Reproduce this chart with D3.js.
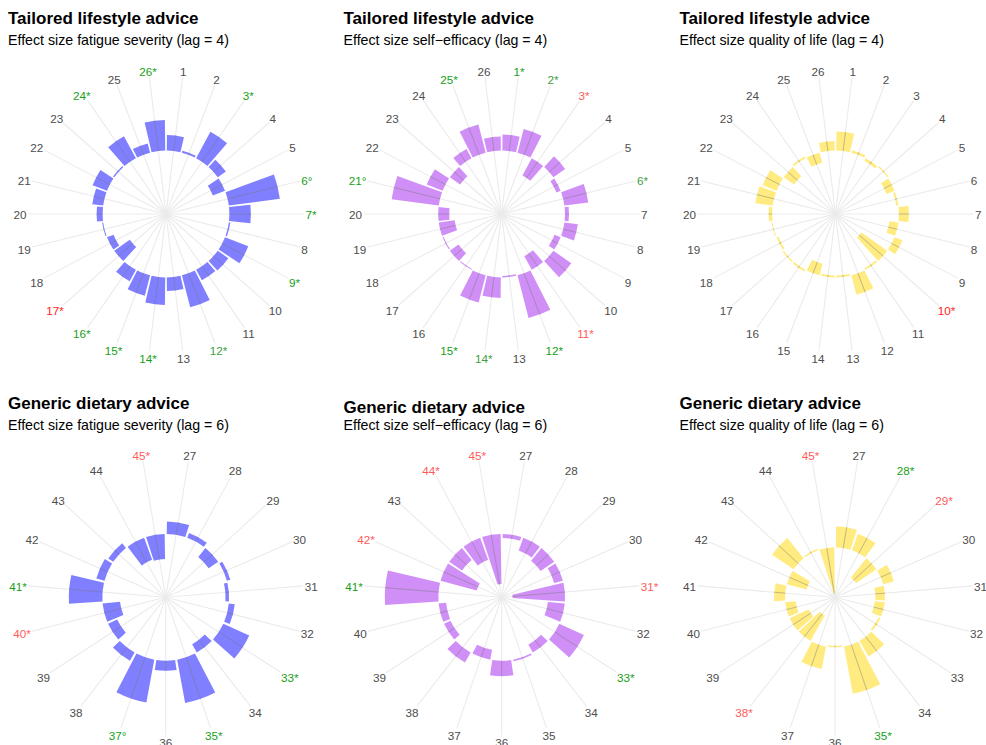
<!DOCTYPE html>
<html><head><meta charset="utf-8">
<script src="https://cdn.jsdelivr.net/npm/d3@7"></script>
<style>
body{margin:0;background:#fff}
text{font-family:"Liberation Sans",Arial,Helvetica,sans-serif}
</style>
</head><body>
<svg id="chart" width="986" height="745"></svg>
<script>
// ---- categories ----
const idsLag4 = ["1","2","3","4","5","6","7","8","9","10","11","12","13","14","15","16","17","18","19","20","21","22","23","24","25","26"];
const idsLag6 = ["27","28","29","30","31","32","33","34","35","36","37","38","39","40","41","42","43","44","45"];

// ---- effect sizes ----
const fatigueLag4   = [0.31,0.04,0.60,0.20,-0.26,1.03,0.43,0.03,0.50,0.26,0.24,0.66,0.27,0.55,0.42,0.26,-0.38,-0.14,0.02,0.12,0.22,0.31,0.03,0.50,0.19,0.61];
const efficacyLag4  = [0.32,0.49,-0.39,0.29,-0.09,0.48,0.08,0.27,-0.13,0.44,-0.31,0.88,-0.03,0.41,0.56,-0.02,-0.21,-0.02,-0.32,-0.22,0.95,0.34,-0.25,0.21,0.58,0.28];
const qolLag4       = [0.38,0.05,-0.06,0.03,-0.17,-0.04,0.20,-0.18,0.17,-0.63,-0.04,0.40,-0.04,-0.04,-0.24,0.04,0.03,-0.04,0.02,0.07,0.35,0.30,-0.25,0.04,-0.21,0.19];
const fatigueLag6   = [0.25,0.10,-0.23,0.07,-0.07,0.12,0.57,-0.19,0.88,0.20,0.87,0.19,-0.20,-0.35,0.67,0.17,0.12,-0.47,-0.50];
const efficacyLag6  = [-0.08,-0.27,-0.33,-0.18,-1.05,-0.34,0.54,-0.18,0.03,0.31,-0.20,0.23,-0.14,-0.15,1.07,-0.75,-0.31,-0.47,-1.00];
const qolLag6       = [0.42,0.35,-0.49,0.22,-0.19,-0.20,-0.04,0.36,0.96,-0.03,0.46,-0.58,-0.42,-0.21,0.22,-0.41,0.52,0.03,-0.92];

// ---- tick labels ----
const fatigueLag4Labels  = ["1","2","3*","4","5","6°","7*","8","9*","10","11","12*","13","14*","15*","16*","17*","18","19","20","21","22","23","24*","25","26*"];
const efficacyLag4Labels = ["1*","2*","3*","4","5","6*","7","8","9","10","11*","12*","13","14*","15*","16","17","18","19","20","21°","22","23","24","25*","26"];
const qolLag4Labels      = ["1","2","3","4","5","6","7","8","9","10*","11","12","13","14","15","16","17","18","19","20","21","22","23","24","25","26"];
const fatigueLag6Labels  = ["27","28","29","30","31","32","33*","34","35*","36","37°","38","39","40*","41*","42","43","44","45*"];
const efficacyLag6Labels = ["27","28","29","30","31*","32","33*","34","35","36","37","38","39","40","41*","42*","43","44*","45*"];
const qolLag6Labels      = ["27","28*","29*","30","31","32","33","34","35*","36","37","38*","39","40","41","42","43","44","45*"];

// significance code of each tick label: 1 strong +, 2 weaker +, -1 strong -, -2 weaker -, 0 none
const fatigueLag4Sig  = [0,0,1,0,0,1,1,0,1,0,0,2,0,1,1,1,-1,0,0,0,0,0,0,1,0,1];
const efficacyLag4Sig = [1,2,-2,0,0,2,0,0,0,0,-2,1,0,2,1,0,0,0,0,0,1,0,0,0,1,0];
const qolLag4Sig      = [0,0,0,0,0,0,0,0,0,-1,0,0,0,0,0,0,0,0,0,0,0,0,0,0,0,0];
const fatigueLag6Sig  = [0,0,0,0,0,0,1,0,1,0,1,0,0,-2,1,0,0,0,-2];
const efficacyLag6Sig = [0,0,0,0,-2,0,1,0,0,0,0,0,0,0,1,-2,0,-2,-2];
const qolLag6Sig      = [0,1,-2,0,0,0,0,0,1,0,0,-2,0,0,0,0,0,0,-2];

const titles = ["Tailored lifestyle advice","Generic dietary advice"];
const subtitles = [
  "Effect size fatigue severity (lag = 4)","Effect size self\u2212efficacy (lag = 4)","Effect size quality of life (lag = 4)",
  "Effect size fatigue severity (lag = 6)","Effect size self\u2212efficacy (lag = 6)","Effect size quality of life (lag = 6)"];

// ---- styling / layout ----
const sigColor = {"0":"#4d4d4d","1":"#16a016","2":"#40a040","-1":"#ff1a1a","-2":"#ff5a5a"};
const fills = {blue:"#0000ff", purple:"#a020f0", gold:"#ffd700"};
const R_OUT = 124.6, SPOKE = 138, LAB_R = 139.5, LAB_FS = 11.7;

const panels = [
  {title:titles[0], sub:subtitles[0], ids:idsLag4, vals:fatigueLag4,  labs:fatigueLag4Labels,  sig:fatigueLag4Sig,  fill:fills.blue,   cx:166,   cy:214,   tx:8,     tb:24,  sb:45,  dom:[-1.268,1.224]},
  {title:titles[0], sub:subtitles[1], ids:idsLag4, vals:efficacyLag4, labs:efficacyLag4Labels, sig:efficacyLag4Sig, fill:fills.purple, cx:501.6, cy:214,   tx:343.5, tb:24,  sb:45,  dom:[-1.268,1.224]},
  {title:titles[0], sub:subtitles[2], ids:idsLag4, vals:qolLag4,      labs:qolLag4Labels,      sig:qolLag4Sig,      fill:fills.gold,   cx:835.5, cy:214,   tx:679.5, tb:24,  sb:45,  dom:[-1.268,1.224]},
  {title:titles[1], sub:subtitles[3], ids:idsLag6, vals:fatigueLag6,  labs:fatigueLag6Labels,  sig:fatigueLag6Sig,  fill:fills.blue,   cx:165.7, cy:597.3, tx:8,     tb:409, sb:430, dom:[-1.268,1.224]},
  {title:titles[1], sub:subtitles[4], ids:idsLag6, vals:efficacyLag6, labs:efficacyLag6Labels, sig:efficacyLag6Sig, fill:fills.purple, cx:501.7, cy:597.3, tx:343.5, tb:412.5, sb:430, dom:[-1.268,1.224]},
  {title:titles[1], sub:subtitles[5], ids:idsLag6, vals:qolLag6,      labs:qolLag6Labels,      sig:qolLag6Sig,      fill:fills.gold,   cx:835,   cy:597.3, tx:679.5, tb:409, sb:430, dom:[-1.0,1.492]}
];

const svg = d3.select("#chart");
svg.append("rect").attr("width",986).attr("height",745).attr("fill","#fff");
const defs = svg.append("defs");

panels.forEach((p, pi) => {
  const data = p.ids.map((id,i)=>({id, v:p.vals[i], lab:p.labs[i], sig:p.sig[i]}));
  const x = d3.scaleBand().domain(p.ids).range([0, 2*Math.PI]).paddingInner(0.1).paddingOuter(0.05);
  const r = d3.scaleLinear().domain(p.dom).range([0, R_OUT]);
  const mid = id => x(id) + x.bandwidth()/2;

  svg.append("text").attr("x",p.tx).attr("y",p.tb).attr("font-size",17).attr("font-weight","bold").attr("fill","#000").text(p.title);
  svg.append("text").attr("x",p.tx).attr("y",p.sb).attr("font-size",14.2).attr("fill","#000").text(p.sub);

  const g = svg.append("g").attr("transform",`translate(${p.cx},${p.cy})`);

  const spokeEnds = sel => sel
    .attr("x1",0).attr("y1",0)
    .attr("x2",d=>SPOKE*Math.sin(mid(d.id))).attr("y2",d=>-SPOKE*Math.cos(mid(d.id)));

  // spokes (theta grid)
  g.append("g").selectAll("line").data(data).join("line")
    .call(spokeEnds).attr("stroke","#ebebeb").attr("stroke-width",1.1);

  // bars
  const arc = d3.arc()
    .innerRadius(d=>Math.min(r(0), r(d.v)))
    .outerRadius(d=>Math.max(r(0), r(d.v)))
    .startAngle(d=>x(d.id)).endAngle(d=>x(d.id)+x.bandwidth());
  g.append("g").selectAll("path").data(data).join("path")
    .attr("d",arc).attr("fill",p.fill).attr("fill-opacity",0.5);

  // grid line showing through the translucent bars
  const clip = defs.append("clipPath").attr("id","barclip"+pi);
  clip.selectAll("path").data(data).join("path").attr("d",arc);
  g.append("g").attr("clip-path",`url(#barclip${pi})`)
    .selectAll("line").data(data).join("line")
    .call(spokeEnds).attr("stroke","#8a8a8a").attr("stroke-opacity",0.45).attr("stroke-width",1);

  // labels
  const capH = 0.716*LAB_FS, boxH = 0.905*LAB_FS;
  g.append("g").selectAll("text").data(data).join("text")
    .attr("font-size",LAB_FS).attr("fill",d=>sigColor[String(d.sig)])
    .attr("text-anchor","middle")
    .text(d=>d.lab)
    .each(function(d){
      const a = mid(d.id);
      const w = this.getComputedTextLength();
      const s = Math.sin(a), c = Math.cos(a);
      const xc = LAB_R*s + (w/2)*s;
      const yc = -LAB_R*c - (boxH/2)*c;
      d3.select(this).attr("x",xc).attr("y",yc+boxH/2 - (boxH-capH)/2*0);
    });
});
</script>
</body></html>
